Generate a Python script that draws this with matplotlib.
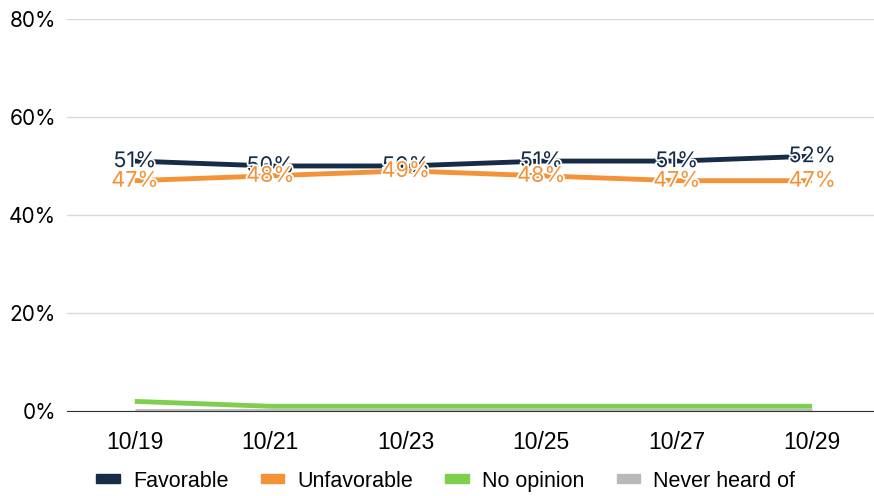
import matplotlib.pyplot as plt
import matplotlib.patheffects as pe
from matplotlib.patches import Patch

dates = ['10/19', '10/21', '10/23', '10/25', '10/27', '10/29']
favorable = [51, 50, 50, 51, 51, 52]
unfavorable = [47, 48, 49, 48, 47, 47]
no_opinion = [2, 1, 1, 1, 1, 1]
never_heard = [0, 0, 0, 0, 0, 0]

series = [
    ('Favorable', favorable, '#172c47', True),
    ('Unfavorable', unfavorable, '#f39237', True),
    ('No opinion', no_opinion, '#7fcf4e', False),
    ('Never heard of', never_heard, '#b9b9b9', False),
]

fig = plt.figure(figsize=(8.74, 4.96), dpi=100)
ax = fig.add_axes([0.0767, 0.171, 0.930, 0.791])

x = list(range(len(dates)))
for name, vals, col, lab in reversed(series):
    ax.plot(x, vals, color=col, lw=3.5, solid_capstyle='butt', zorder=3)
for name, vals, col, lab in series:
    if not lab:
        continue
    for xi, v in zip(x, vals):
        ax.text(xi, v, f'{v}%', color=col, fontsize=15.5, family='Inter',
                ha='center', va='center', zorder=5,
                path_effects=[pe.withStroke(linewidth=2.5, foreground='white')])

ax.set_xlim(-0.5, 5.5)
ax.set_ylim(0, 80)
ax.set_yticks([0, 20, 40, 60, 80])
ax.set_yticklabels([f'{t}%' for t in [0, 20, 40, 60, 80]])
ax.set_xticks(x)
ax.set_xticklabels(dates)
ax.grid(axis='y', color='#d9d9d9', lw=1)
ax.set_axisbelow(True)
for s in ['top', 'right', 'left']:
    ax.spines[s].set_visible(False)
ax.spines['bottom'].set_color('#333333')
ax.spines['bottom'].set_zorder(2)
ax.tick_params(length=0, pad=8)
ax.tick_params(axis='x', pad=14)
for t in ax.get_yticklabels():
    t.set_family('Inter')
    t.set_fontsize(15)
for t in ax.get_xticklabels():
    t.set_family('Liberation Sans')
    t.set_fontsize(16.5)

handles = [Patch(color=c) for _, _, c, _ in series]
fig.legend(handles, [n for n, _, _, _ in series], loc='lower center',
           bbox_to_anchor=(0.510, -0.03), ncol=4, frameon=False,
           prop={'family': 'Liberation Sans', 'size': 15.5},
           handlelength=1.1, handleheight=0.28, columnspacing=1.5, handletextpad=0.6)

fig.savefig('out.png', dpi=100)
